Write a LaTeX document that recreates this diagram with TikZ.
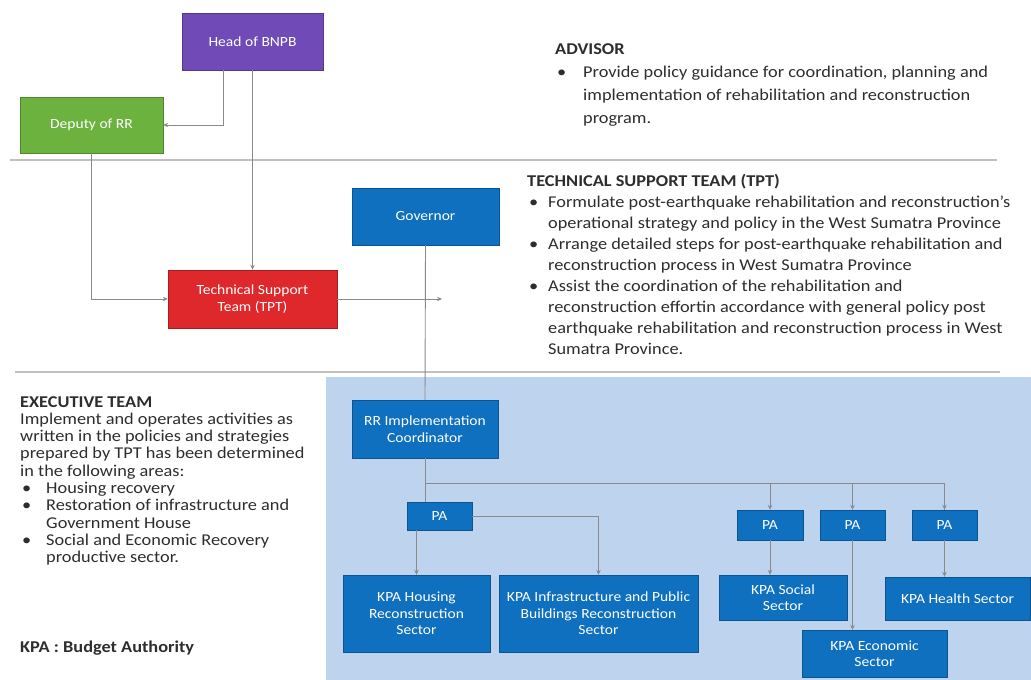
\documentclass[tikz,border=0pt]{standalone}
\usepackage{fontspec}
\setmainfont{Carlito}[FakeStretch=1.11]
\usetikzlibrary{arrows.meta}

\definecolor{headpurple}{RGB}{112,74,182}
\definecolor{deputygreen}{RGB}{108,178,62}
\definecolor{tptred}{RGB}{222,40,44}
\definecolor{orgblue}{RGB}{16,112,192}
\definecolor{panelblue}{RGB}{190,211,238}
\definecolor{linegray}{RGB}{138,138,138}
\definecolor{rulegray}{RGB}{192,192,192}
\definecolor{textgray}{RGB}{45,45,45}

% bullet with hanging indent
\newcommand{\bl}[1]{\makebox[#1][l]{\hspace{2pt}\textbullet}}
\newcommand{\ind}[1]{\hspace*{#1}}

\begin{document}
\begin{tikzpicture}[x=1pt,y=-1pt,
    conn/.style={draw=linegray, line width=0.9pt},
    arr/.style={conn, -{Stealth[length=5pt,width=4.5pt]}},
    orgbox/.style={draw=#1!75!black, fill=#1, text=white, align=center,
        inner sep=2pt, font=\fontsize{14}{16.5}\selectfont},
    txt/.style={anchor=north west, align=left, text=textgray, inner sep=0pt}]
    \useasboundingbox (0,0) rectangle (1031,680);

    % panel and rules
    \fill [panelblue] (326,377) rectangle (1031,680);
    \draw [rulegray, line width=2pt] (10,160) -- (997,160);
    \draw [rulegray, line width=2pt] (15,372) -- (1000,372);

    % advisor level
    \node [orgbox=headpurple, minimum width=141pt, minimum height=57pt] (head) at (252.5,41.5) {Head of BNPB};
    \node [orgbox=deputygreen, minimum width=143pt, minimum height=56pt] (deputy) at (91.5,125) {Deputy of RR};

    % technical level
    \node [orgbox=tptred, minimum width=169pt, minimum height=58pt] (tpt) at (252.5,299) {Technical Support\\Team (TPT)};
    \node [orgbox=orgblue, minimum width=147pt, minimum height=57pt] (governor) at (425.5,216.5) {Governor};
    \coordinate (tptend) at (442,299);

    % executive level
    \node [orgbox=orgblue, minimum width=146pt, minimum height=58pt] (coord) at (425,429) {RR Implementation\\Coordinator};
    \node [orgbox=orgblue, minimum width=65pt, minimum height=28pt] (pa1) at (439.5,516) {PA};
    \node [orgbox=orgblue, minimum width=66pt, minimum height=30pt] (pasoc) at (770,525) {PA};
    \node [orgbox=orgblue, minimum width=65pt, minimum height=30pt] (paeco) at (852.5,525) {PA};
    \node [orgbox=orgblue, minimum width=65pt, minimum height=30pt] (pahea) at (944.5,525) {PA};
    \node [orgbox=orgblue, minimum width=147pt, minimum height=77pt] (kpahouse) at (416.5,613.5) {KPA Housing\\Reconstruction\\Sector};
    \node [orgbox=orgblue, minimum width=199pt, minimum height=77pt] (kpainfra) at (598.5,613.5) {KPA Infrastructure and Public\\Buildings Reconstruction\\Sector};
    \node [orgbox=orgblue, minimum width=128pt, minimum height=45pt] (kpasoc) at (783,597.5) {KPA Social\\Sector};
    \node [orgbox=orgblue, minimum width=145pt, minimum height=43pt] (kpahea) at (957.5,598.5) {KPA Health Sector};
    \node [orgbox=orgblue, minimum width=145pt, minimum height=47pt] (kpaeco) at (874.5,653.5) {KPA Economic\\Sector};
    \coordinate (bus) at (425,483);

    % connectors
    \draw [arr] ([xshift=-29.5pt]head.south) |- (deputy.east);
    \draw [arr] (head.south) -- (tpt.north);
    \draw [arr] (deputy.south) |- (tpt.west);
    \draw [arr] (tpt.east) -- (tptend);
    \draw [conn] (governor.south) -- (coord.north);
    \draw [conn] (coord.south) -- (coord.south |- pa1.north);
    \draw [conn] (bus) -| (pahea.north);
    \draw [arr] (bus -| pasoc.north) -- (pasoc.north);
    \draw [arr] (bus -| paeco.north) -- (paeco.north);
    \draw [arr] (bus -| pahea.north) -- (pahea.north);
    \draw [arr] (pa1.south -| kpahouse.north) -- (kpahouse.north);
    \draw [arr] (pa1.east) -| (kpainfra.north);
    \draw [arr] (pasoc.south) -- (pasoc.south |- kpasoc.north);
    \draw [arr] (paeco.south) -- (paeco.south |- kpaeco.north);
    \draw [arr] (pahea.south) -- (pahea.south |- kpahea.north);

    % side texts
    \node [txt, font=\fontsize{16.5}{23}\selectfont] (advisor) at (555,43) {\textbf{ADVISOR}\\
        \bl{28pt}Provide policy guidance for coordination, planning and\\
        \ind{28pt}implementation of rehabilitation and reconstruction\\
        \ind{28pt}program.};
    \node [txt, font=\fontsize{16.5}{21}\selectfont] (tpttxt) at (527,174) {\textbf{TECHNICAL SUPPORT TEAM (TPT)}\\
        \bl{21pt}Formulate post-earthquake rehabilitation and reconstruction's\\
        \ind{21pt}operational strategy and policy in the West Sumatra Province\\
        \bl{21pt}Arrange detailed steps for post-earthquake rehabilitation and\\
        \ind{21pt}reconstruction process in West Sumatra Province\\
        \bl{21pt}Assist the coordination of the rehabilitation and\\
        \ind{21pt}reconstruction effortin accordance with general policy post\\
        \ind{21pt}earthquake rehabilitation and reconstruction process in West\\
        \ind{21pt}Sumatra Province.};
    \node [txt, font=\fontsize{16.5}{17.3}\selectfont] (exectxt) at (20,396) {\textbf{EXECUTIVE TEAM}\\
        Implement and operates activities as\\
        written in the policies and strategies\\
        prepared by TPT has been determined\\
        in the following areas:\\
        \bl{26pt}Housing recovery\\
        \bl{26pt}Restoration of infrastructure and\\
        \ind{26pt}Government House\\
        \bl{26pt}Social and Economic Recovery\\
        \ind{26pt}productive sector.};
    \node [txt, font=\fontsize{16.5}{19}\selectfont] (kpanote) at (20,641) {\textbf{KPA : Budget Authority}};
\end{tikzpicture}
\end{document}
